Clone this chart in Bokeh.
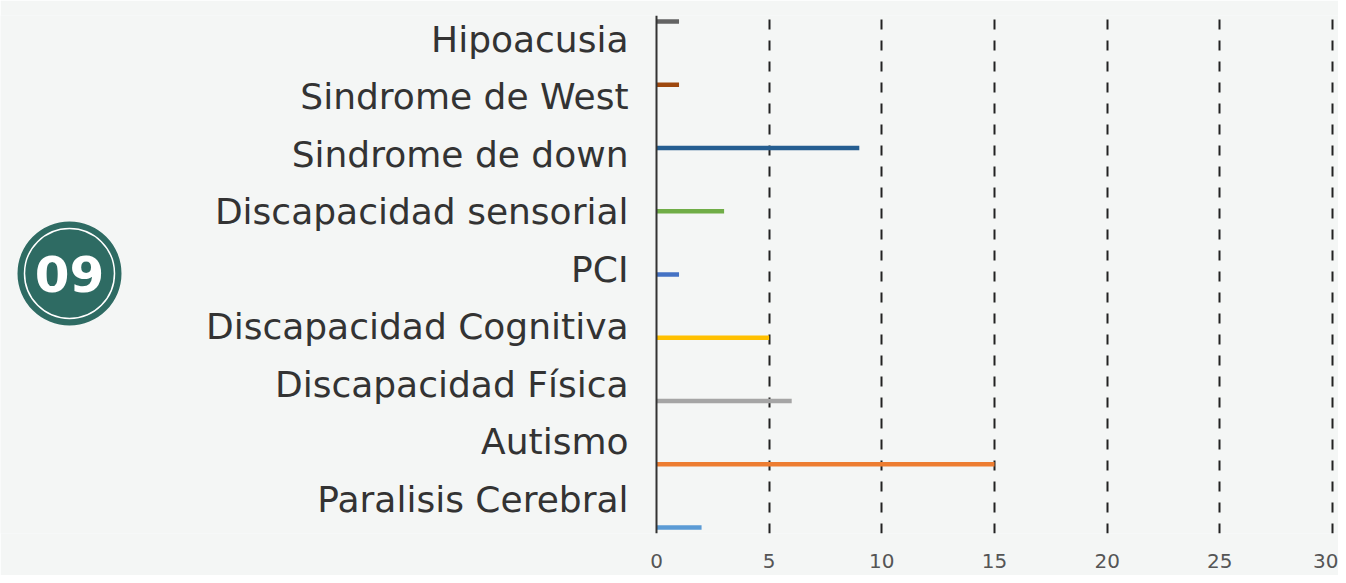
from bokeh.plotting import figure
from bokeh.models import Range1d, FixedTicker, Span, ColumnDataSource
from bokeh.core.properties import value
from bokeh.embed import file_html
from bokeh.resources import INLINE

# ---- data ----
categories = ["Hipoacusia", "Sindrome de West", "Sindrome de down",
              "Discapacidad sensorial", "PCI", "Discapacidad Cognitiva",
              "Discapacidad Física", "Autismo", "Paralisis Cerebral"]
counts = [1, 1, 9, 3, 1, 5, 6, 15, 2]
bar_colors = ["#636363", "#9e480e", "#255e91", "#70ad47", "#4472c4",
              "#ffc000", "#a5a5a5", "#ed7d31", "#5b9bd5"]
x_ticks = [0, 5, 10, 15, 20, 25, 30]
badge_text = "09"

BG = "#f4f6f5"
W, H = 1338, 575
n = len(categories)

# pixel layout targets (figure coordinates)
x0_px, x30_px = 656, 1332
ppu = (x30_px - x0_px) / 30.0
x_start = -x0_px / ppu
x_end = 30 + (W - x30_px) / ppu
frame_top, frame_bottom = 15, 533
row_px = (527 - 21) / (n - 1)
pad = 6 / row_px

p = figure(width=W, height=H, output_backend="svg", toolbar_location=None,
           x_range=Range1d(x_start, x_end), y_range=Range1d(-pad, n - 1 + pad),
           y_axis_location=None, min_border_left=0, min_border_right=0,
           min_border_top=frame_top, min_border_bottom=H - frame_bottom,
           background_fill_color=BG, border_fill_color=BG, outline_line_color=None)

# grid / axis
p.ygrid.visible = False
p.xgrid.ticker = FixedTicker(ticks=x_ticks[1:])
p.xgrid.grid_line_color = "#222222"
p.xgrid.grid_line_width = 2
p.xgrid.grid_line_dash = "10 11"

p.xaxis.ticker = FixedTicker(ticks=x_ticks)
p.xaxis.axis_line_color = None
p.xaxis.major_tick_line_color = None
p.xaxis.minor_tick_line_color = None
p.xaxis.major_label_standoff = 14
p.xaxis.major_label_text_font = "DejaVu Sans"
p.xaxis.major_label_text_font_size = "20px"
p.xaxis.major_label_text_color = "#555555"

p.add_layout(Span(location=0, dimension="height", line_color="#333333", line_width=2))

# bars
bar_y = [n - 1 - k for k in range(n)]
src = ColumnDataSource(dict(y=bar_y, x0=[0] * n, x1=counts, c=bar_colors))
p.segment(x0="x0", y0="y", x1="x1", y1="y", line_color="c", line_width=4.5, source=src)

# category labels (own spacing, as in the original infographic)
label_step = 57.5 / row_px
label_base = (527 - 498.5) / row_px
label_y = [label_base + label_step * (n - 1 - k) for k in range(n)]
lsrc = ColumnDataSource(dict(y=label_y, x=[-28 / ppu] * n, t=categories))
p.text(x="x", y="y", text="t", source=lsrc, text_align="right", text_baseline="middle",
       text_font=value("DejaVu Sans"), text_font_size="36px", text_color="#333333")

# badge
bx = (69 - x0_px) / ppu
by = (527 - 273) / row_px
p.scatter([bx], [by], marker="circle", size=104, fill_color="#2e6b63", line_color=None)
p.scatter([bx], [by], marker="circle", size=90, fill_color=None, line_color="white",
          line_width=1.5)
p.text([bx], [by], text=[badge_text], text_align="center", text_baseline="middle",
       text_font=value("DejaVu Sans"), text_font_style="bold", text_font_size="50px",
       text_color="white")

open("out.html", "w").write(file_html(p, INLINE))
